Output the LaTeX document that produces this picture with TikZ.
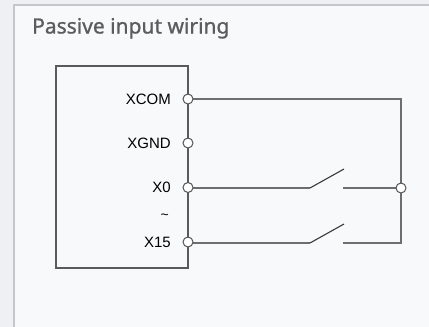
\documentclass[tikz,border=0pt]{standalone}
\usepackage{fontspec}
\setmainfont{Liberation Sans}
\newfontfamily\titlefont[FakeBold=1.0]{Noto Sans}
\begin{document}
\begin{tikzpicture}[x=1pt,y=-1pt,
  wire/.style={draw=wirec, line width=1.1pt},
  sw/.style={draw=swc, line width=1.1pt},
  term/.style={circle, draw=termc, fill=white, line width=1pt, minimum size=10pt, inner sep=0pt},
  lbl/.style={anchor=east, font=\fontsize{15}{15}\selectfont, text=black, inner sep=0pt},
]
\definecolor{bgc}{HTML}{EEF0F3}
\definecolor{panelc}{HTML}{F8F9FB}
\definecolor{borderc}{HTML}{C4C6C9}
\definecolor{wirec}{HTML}{6E6E6E}
\definecolor{swc}{HTML}{3A3A3A}
\definecolor{termc}{HTML}{555555}
\definecolor{boxc}{HTML}{5A5A5A}
\definecolor{titlec}{HTML}{5C5C5C}
\useasboundingbox (0,0) rectangle (429,327);
\fill[bgc] (0,0) rectangle (429,327);
\fill[panelc] (14,5) rectangle (440,340);
\draw[borderc, line width=1.3pt] (14,340) -- (14,5) -- (440,5);
\node[anchor=base west, inner sep=0pt, text=titlec, font=\titlefont\fontsize{21}{22}\selectfont] (title) at (32,33.5) {Passive input wiring};
% device box
\draw[boxc, line width=1.2pt] (56,66) rectangle (188,268);
\coordinate (c1) at (401,99);
\coordinate (c2) at (401,243);
\coordinate (s0a) at (310,188);
\coordinate (s0b) at (344,169);
\coordinate (s0c) at (343,188);
\coordinate (s1a) at (310,243);
\coordinate (s1b) at (344,224);
\coordinate (s1c) at (343,243);
% wires
\draw[wire] (188,99) -- (c1) -- (c2) -- (s1c);
\draw[wire] (188,188) -- (s0a);
\draw[wire] (s0c) -- (401,188);
\draw[wire] (188,243) -- (s1a);
\draw[sw] (s0a) -- (s0b);
\draw[sw] (s1a) -- (s1b);
% terminals
\node[term] (tcom) at (188,99) {};
\node[term] (tgnd) at (188,143) {};
\node[term] (t0) at (188,187.5) {};
\node[term] (t15) at (188,242) {};
\node[term] (j) at (401,188) {};
% labels
\node[lbl] (lcom) at (171,99) {XCOM};
\node[lbl] (lgnd) at (171,143) {XGND};
\node[lbl] (l0) at (171,187.5) {X0};
\node[lbl] (lt) at (169,217) {\fontsize{14}{14}\selectfont\char"7E};
\node[lbl] (l15) at (171,242) {X15};
\end{tikzpicture}
\end{document}
